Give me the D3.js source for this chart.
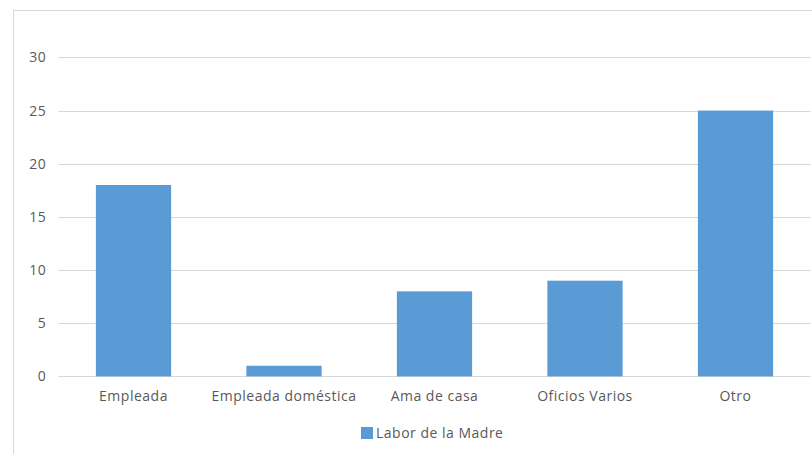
<!DOCTYPE html>
<html>
<head>
<meta charset="utf-8">
<script src="https://cdn.jsdelivr.net/npm/d3@7"></script>
<style>
    body { margin: 0; background: #fff; }
    svg { display: block; }
    .lbl { font-family: "Open Sans", "Noto Sans", sans-serif; font-size: 14px; letter-spacing: 0.5px; fill: #595959; }
</style>
</head>
<body>
<div id="chart"></div>
<script>
const categories = ['Empleada', 'Empleada doméstica', 'Ama de casa', 'Oficios Varios', 'Otro'];
const values = [18, 1, 8, 9, 25];
const yTicks = [0, 5, 10, 15, 20, 25, 30];
const seriesName = 'Labor de la Madre';

const width = 812, height = 454;
const margin = { top: 57.4, right: 1.25, bottom: 78, left: 58.25 };
const barColor = '#5b9bd5';

const svg = d3.select('#chart').append('svg')
    .attr('width', width)
    .attr('height', height);

// outer chart frame (cropped on right and bottom)
svg.append('rect')
    .attr('x', 13.5).attr('y', 10.5)
    .attr('width', 820).attr('height', 460)
    .attr('fill', 'none')
    .attr('stroke', '#d9d9d9');

const x = d3.scaleBand()
    .domain(categories)
    .range([margin.left, width - margin.right])
    .paddingInner(0.5)
    .paddingOuter(0.25);

const y = d3.scaleLinear()
    .domain([0, 30])
    .range([height - margin.bottom + 0.4, margin.top]);

// Gridlines
svg.append('g')
    .selectAll('line')
    .data(yTicks)
    .join('line')
    .attr('x1', margin.left).attr('x2', width - margin.right)
    .attr('y1', d => Math.round(y(d)) + 0.5).attr('y2', d => Math.round(y(d)) + 0.5)
    .attr('stroke', '#d9d9d9');

// Y axis labels
const yAxis = svg.append('g')
    .attr('transform', `translate(${margin.left - 12},0)`)
    .call(d3.axisLeft(y).tickValues(yTicks).tickSize(0).tickPadding(0));
yAxis.select('.domain').remove();
yAxis.selectAll('text').attr('class', 'lbl').attr('fill', null);

// Bars
svg.append('g')
    .selectAll('rect')
    .data(values)
    .join('rect')
    .attr('x', (d, i) => x(categories[i]))
    .attr('width', x.bandwidth())
    .attr('y', d => y(d))
    .attr('height', d => y(0) - y(d))
    .attr('fill', barColor);

// X axis labels
const xAxis = svg.append('g')
    .attr('transform', `translate(0,${y(0)})`)
    .call(d3.axisBottom(x).tickSize(0).tickPadding(15));
xAxis.select('.domain').remove();
xAxis.selectAll('text').attr('class', 'lbl').attr('fill', null);

// Legend
const legend = svg.append('g').attr('transform', 'translate(361,427)');
legend.append('rect')
    .attr('width', 12).attr('height', 12)
    .attr('fill', barColor);
legend.append('text')
    .attr('class', 'lbl')
    .attr('x', 15).attr('y', 6)
    .attr('dy', '0.35em')
    .text(seriesName);
</script>
</body>
</html>
